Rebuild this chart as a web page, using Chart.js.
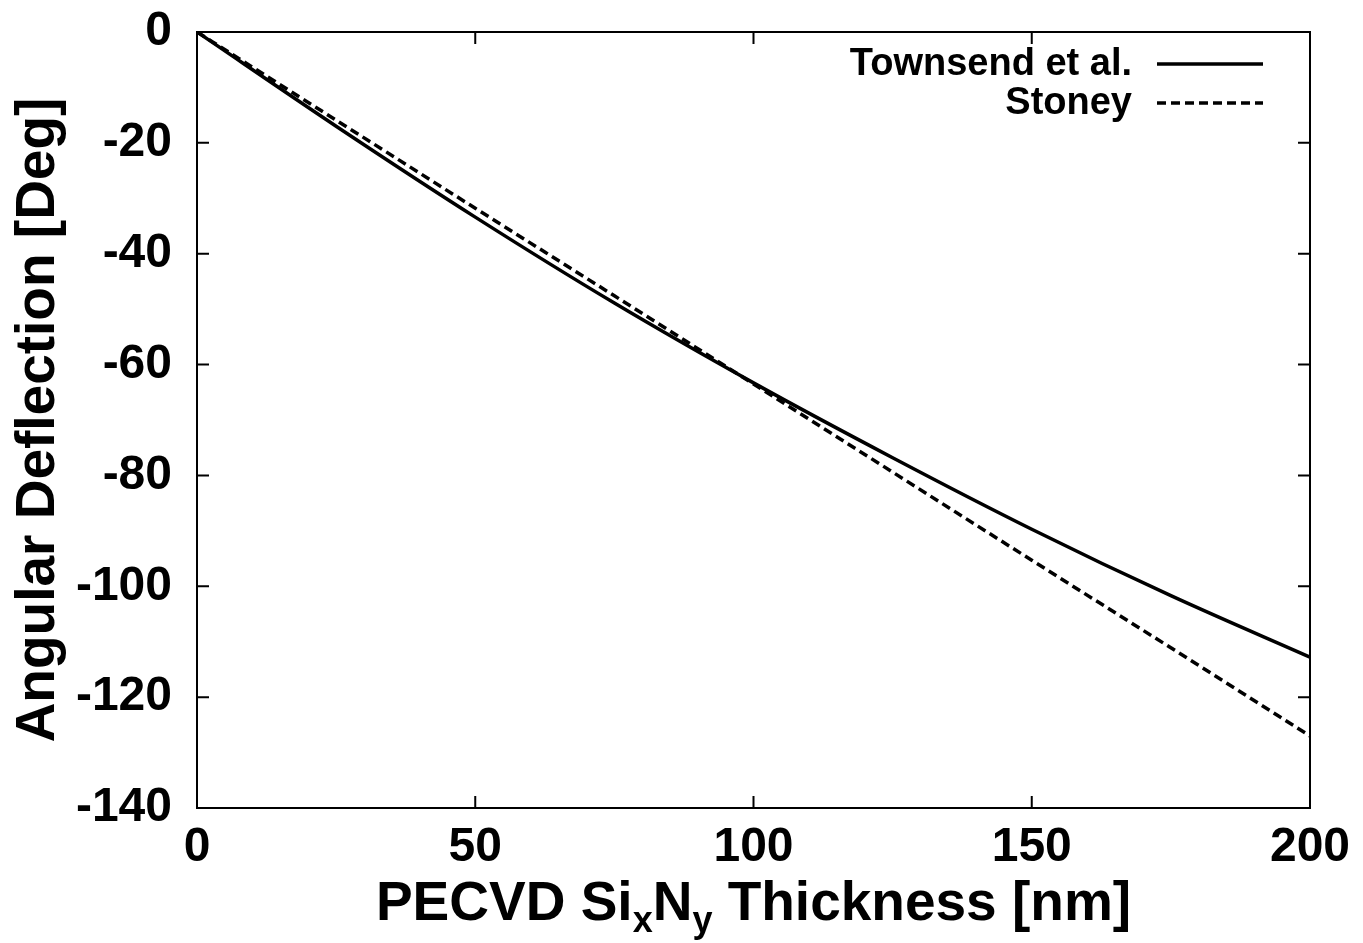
<!DOCTYPE html>
<html>
<head>
<meta charset="utf-8">
<title>Angular Deflection</title>
<script src="https://cdn.jsdelivr.net/npm/chart.js@4.4.1/dist/chart.umd.min.js"></script>
<style>
  html, body { margin: 0; padding: 0; background: #fff; }
  #wrap { width: 1363px; height: 943px; position: relative; }
</style>
</head>
<body>
<div id="wrap"><canvas id="grafico"></canvas></div>
<script>
// Espessura do filme (nm)
const espessura = [0, 25, 50, 75, 100, 125, 150, 175, 200];
// Deflexão angular (graus)
const townsend = [0, -17.0, -33.4, -48.9, -63.3, -76.8, -89.7, -101.7, -112.8];
const stoney = [0, -15.9, -31.8, -47.6, -63.5, -79.4, -95.3, -111.1, -127.0];
const nomesSeries = ['Townsend et al.', 'Stoney'];
const ticksX = [0, 50, 100, 150, 200];
const ticksY = [0, -20, -40, -60, -80, -100, -120, -140];

const fonte = "'Liberation Sans', Arial, Helvetica, sans-serif";

function pontos(xs, ys) {
    return xs.map((x, i) => ({ x: x, y: ys[i] }));
}

// Caixa, ticks para dentro (espelhados), legenda e titulo do eixo x com subscritos
const extras = {
    id: 'extras',
    afterDraw(chart) {
        const ctx = chart.ctx;
        const a = chart.chartArea;
        const sx = chart.scales.x;
        const sy = chart.scales.y;
        ctx.save();
        ctx.strokeStyle = '#000';
        ctx.lineWidth = 2;
        ctx.strokeRect(a.left, a.top, a.right - a.left, a.bottom - a.top);

        const tam = 12;
        ctx.beginPath();
        ticksX.forEach(v => {
            const px = sx.getPixelForValue(v);
            ctx.moveTo(px, a.bottom); ctx.lineTo(px, a.bottom - tam);
            ctx.moveTo(px, a.top); ctx.lineTo(px, a.top + tam);
        });
        ticksY.forEach(v => {
            const py = sy.getPixelForValue(v);
            ctx.moveTo(a.left, py); ctx.lineTo(a.left + tam, py);
            ctx.moveTo(a.right, py); ctx.lineTo(a.right - tam, py);
        });
        ctx.stroke();

        // legenda
        ctx.font = 'bold 38px ' + fonte;
        ctx.fillStyle = '#000';
        ctx.textAlign = 'right';
        ctx.textBaseline = 'middle';
        const linhasY = [64, 103];
        chart.data.datasets.forEach((ds, i) => {
            ctx.fillText(ds.label, 1132, linhasY[i] + 1);
            ctx.setLineDash(ds.borderDash || []);
            ctx.lineWidth = 3.5;
            ctx.beginPath();
            ctx.moveTo(1157, linhasY[i]);
            ctx.lineTo(1263, linhasY[i]);
            ctx.stroke();
        });
        ctx.setLineDash([]);

        // titulo do eixo x: PECVD SixNy Thickness [nm]
        const partes = [
            ['PECVD Si', 0], ['x', 1], ['N', 0], ['y', 1], [' Thickness [nm]', 0]
        ];
        const fN = 'bold 55px ' + fonte;
        const fS = 'bold 36px ' + fonte;
        ctx.textAlign = 'left';
        ctx.textBaseline = 'alphabetic';
        let largura = 0;
        partes.forEach(p => {
            ctx.font = p[1] ? fS : fN;
            largura += ctx.measureText(p[0]).width;
        });
        let x = (a.left + a.right) / 2 - largura / 2;
        const base = 920;
        partes.forEach(p => {
            ctx.font = p[1] ? fS : fN;
            ctx.fillText(p[0], x, p[1] ? base + 12 : base);
            x += ctx.measureText(p[0]).width;
        });
        ctx.restore();
    }
};

const ctxGrafico = document.getElementById('grafico').getContext('2d');
const grafico = new Chart(ctxGrafico, {
    type: 'line',
    data: {
        datasets: [{
            label: nomesSeries[0],
            data: pontos(espessura, townsend),
            borderColor: '#000',
            borderWidth: 3.5,
            pointRadius: 0,
            cubicInterpolationMode: 'monotone'
        }, {
            label: nomesSeries[1],
            data: pontos(espessura, stoney),
            borderColor: '#000',
            borderWidth: 3.5,
            borderDash: [9, 5],
            pointRadius: 0,
            cubicInterpolationMode: 'monotone'
        }]
    },
    options: {
        responsive: true,
        maintainAspectRatio: false,
        devicePixelRatio: 1,
        animation: false,
        layout: { padding: { top: 32, right: 53, left: 0, bottom: 0 } },
        plugins: {
            legend: { display: false },
            tooltip: { enabled: false }
        },
        scales: {
            x: {
                type: 'linear',
                min: 0,
                max: 200,
                grid: { display: false, drawTicks: false },
                border: { display: false },
                ticks: {
                    stepSize: 50,
                    color: '#000',
                    padding: 11,
                    maxRotation: 0,
                    font: { family: fonte, size: 48, weight: 'bold' }
                },
                afterFit(scale) {
                    scale.height = 135;
                    scale.paddingLeft = 0;
                    scale.paddingRight = 0;
                }
            },
            y: {
                min: -140,
                max: 0,
                grid: { display: false, drawTicks: false },
                border: { display: false },
                ticks: {
                    stepSize: 20,
                    color: '#000',
                    padding: 25,
                    font: { family: fonte, size: 48, weight: 'bold' }
                },
                title: {
                    display: true,
                    text: 'Angular Deflection [Deg]',
                    color: '#000',
                    padding: { top: 6, bottom: 0 },
                    font: { family: fonte, size: 55, weight: 'bold' }
                },
                afterFit(scale) {
                    scale.width = 197;
                    scale.paddingTop = 0;
                    scale.paddingBottom = 0;
                }
            }
        }
    },
    plugins: [extras]
});
</script>
</body>
</html>
